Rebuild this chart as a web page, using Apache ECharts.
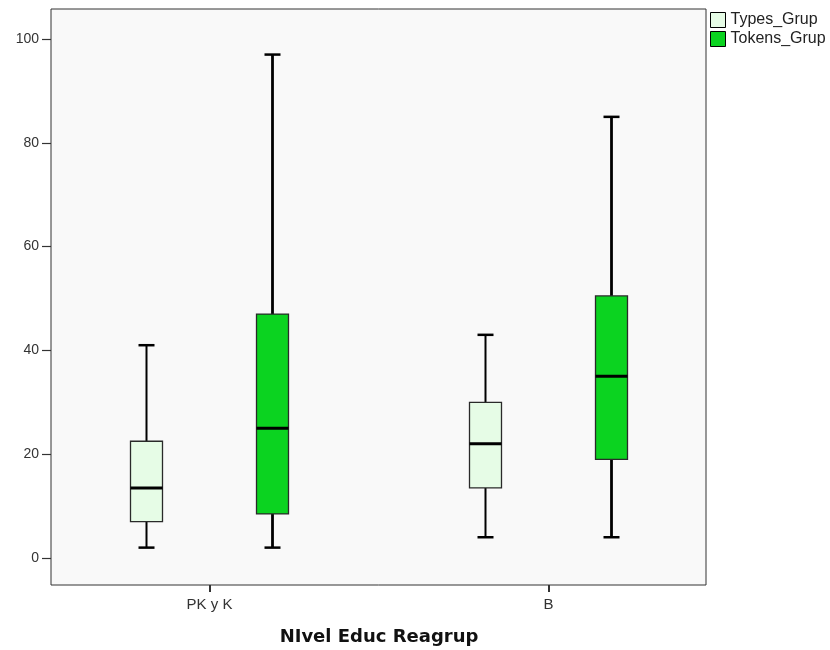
<!DOCTYPE html>
<html>
<head>
<meta charset="utf-8">
<script src="https://cdn.jsdelivr.net/npm/echarts@6/dist/echarts.min.js"></script>
<style>
html,body{margin:0;padding:0;background:#fff;}
#chart{width:830px;height:650px;}
</style>
</head>
<body>
<div id="chart"></div>
<script>
// ---- data ----
const categories = ['PK y K', 'B'];
const seriesNames = ['Types_Grup', 'Tokens_Grup'];
// [min, Q1, median, Q3, max] per category
const typesStats = [[2, 7, 13.5, 22.5, 41], [4, 13.5, 22, 30, 43]];
const tokensStats = [[2, 8.5, 25, 47, 97], [4, 19, 35, 50.5, 85]];
const yTicks = [0, 20, 40, 60, 80, 100];
const xTitle = 'NIvel Educ Reagrup';

// ---- styles ----
const colors = ['#e6fce6', '#0bd320'];
const OFFSET_FRAC = 63 / 339;   // box centre offset from category centre, fraction of band
const BOX_FRAC = 32 / 339;      // box width fraction of band
const CAP_FRAC = 16 / 339;      // cap width fraction of band
const FONT = 'Liberation Sans, Arial, sans-serif';

function toRows(stats) {
  return stats.map((s, i) => [i].concat(s));
}

function makeRender(sign, whiskerW) {
  return function (params, api) {
    const idx = api.value(0);
    const band = api.size([1, 0])[0];
    const c = api.coord([idx, 0]);
    const cx = c[0] + sign * band * OFFSET_FRAC;
    const bw = band * BOX_FRAC;
    const cw = band * CAP_FRAC;
    const yMin = api.coord([idx, api.value(1)])[1];
    const yQ1 = api.coord([idx, api.value(2)])[1];
    const yMed = api.coord([idx, api.value(3)])[1];
    const yQ3 = api.coord([idx, api.value(4)])[1];
    const yMax = api.coord([idx, api.value(5)])[1];
    const fill = api.visual('color');
    const lineStyle = { stroke: '#000', lineWidth: whiskerW };
    return {
      type: 'group',
      children: [
        { type: 'line', shape: { x1: cx, y1: yMin, x2: cx, y2: yQ1 }, style: lineStyle },
        { type: 'line', shape: { x1: cx, y1: yQ3, x2: cx, y2: yMax }, style: lineStyle },
        { type: 'line', shape: { x1: cx - cw / 2, y1: yMin, x2: cx + cw / 2, y2: yMin }, style: { stroke: '#000', lineWidth: 2.5 } },
        { type: 'line', shape: { x1: cx - cw / 2, y1: yMax, x2: cx + cw / 2, y2: yMax }, style: { stroke: '#000', lineWidth: 2.5 } },
        { type: 'rect', shape: { x: cx - bw / 2, y: yQ3, width: bw, height: yQ1 - yQ3 },
          style: { fill: fill, stroke: '#2a2a2a', lineWidth: 1.3 } },
        { type: 'line', shape: { x1: cx - bw / 2, y1: yMed, x2: cx + bw / 2, y2: yMed }, style: { stroke: '#000', lineWidth: 3 } }
      ]
    };
  };
}

const chart = echarts.init(document.getElementById('chart'), null, { renderer: 'canvas' });
const hiddenValue = (g) => ({ gridIndex: g, type: 'value', show: false, min: 0, max: 1 });
const option = {
  backgroundColor: '#ffffff',
  animation: false,
  legend: {
    orient: 'vertical',
    left: 710,
    top: 12,
    padding: 0,
    itemWidth: 15,
    itemHeight: 15,
    itemGap: 3,
    icon: 'rect',
    textStyle: { fontFamily: FONT, fontSize: 16, color: '#222' },
    data: seriesNames.map((n, i) => ({
      name: n, icon: 'rect',
      itemStyle: { color: colors[i], borderColor: '#000', borderWidth: 1 }
    }))
  },
  grid: [
    // 0: frame
    { left: 51, top: 9, right: 124, bottom: 65, show: true, backgroundColor: '#f9f9f9',
      borderColor: '#333', borderWidth: 1, outerBoundsMode: 'none' },
    // 1: data area
    { left: 40, top: 39, width: 678, bottom: 92, outerBoundsMode: 'none' },
    // 2: x axis (at frame bottom)
    { left: 40, top: 39, width: 678, bottom: 65, outerBoundsMode: 'none' },
    // 3: y axis (at frame left)
    { left: 51, top: 39, right: 124, bottom: 92, outerBoundsMode: 'none' }
  ],
  xAxis: [
    hiddenValue(0),
    { gridIndex: 1, type: 'category', data: categories, boundaryGap: true, show: false },
    {
      gridIndex: 2, type: 'category', data: categories, boundaryGap: true,
      position: 'bottom',
      axisLine: { show: false },
      axisTick: { show: true, alignWithLabel: true, length: 7, lineStyle: { color: '#333', width: 2 } },
      axisLabel: { margin: 12, fontFamily: FONT, fontSize: 15, color: '#333' },
      splitLine: { show: false },
      name: xTitle, nameLocation: 'middle', nameGap: 43,
      nameTextStyle: { fontFamily: 'DejaVu Sans', fontWeight: 'bold', fontSize: 18, color: '#111' }
    },
    hiddenValue(3)
  ],
  yAxis: [
    hiddenValue(0),
    { gridIndex: 1, type: 'value', min: yTicks[0], max: yTicks[yTicks.length - 1], show: false },
    hiddenValue(2),
    {
      gridIndex: 3, type: 'value', min: yTicks[0], max: yTicks[yTicks.length - 1], interval: yTicks[1] - yTicks[0],
      position: 'left',
      axisLine: { show: false },
      axisTick: { show: true, length: 9, lineStyle: { color: '#333', width: 1.2 } },
      axisLabel: { margin: 12, fontFamily: FONT, fontSize: 14, color: '#333' },
      splitLine: { show: false }
    }
  ],
  series: [
    {
      name: seriesNames[0], type: 'custom', xAxisIndex: 1, yAxisIndex: 1,
      itemStyle: { color: colors[0] },
      encode: { x: 0, y: [1, 2, 3, 4, 5] },
      renderItem: makeRender(-1, 2),
      data: toRows(typesStats)
    },
    {
      name: seriesNames[1], type: 'custom', xAxisIndex: 1, yAxisIndex: 1,
      itemStyle: { color: colors[1] },
      encode: { x: 0, y: [1, 2, 3, 4, 5] },
      renderItem: makeRender(1, 2.8),
      data: toRows(tokensStats)
    }
  ]
};
chart.setOption(option);
</script>
</body>
</html>
